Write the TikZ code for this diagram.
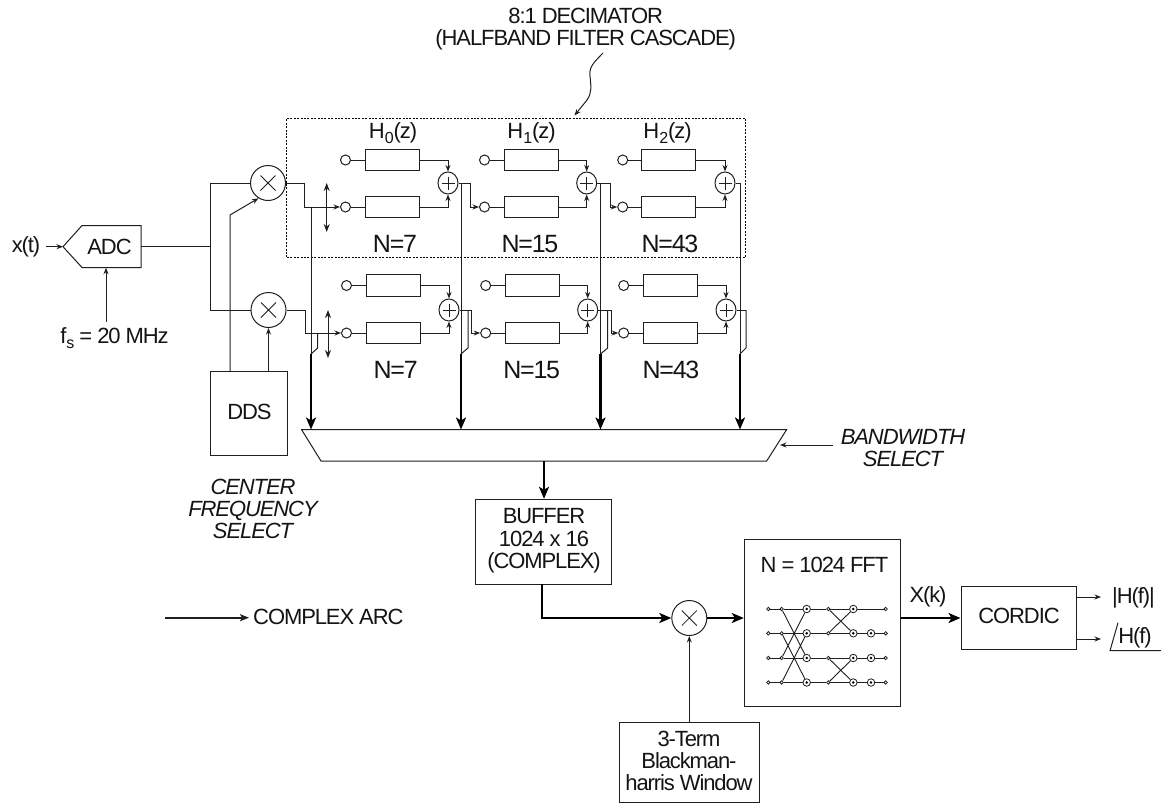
\documentclass[tikz,border=0pt]{standalone}
\usepackage{fontspec}
\setmainfont[LetterSpace=-5]{Liberation Sans}
\usetikzlibrary{arrows.meta,shapes.geometric,calc}
\newcommand{\subtxt}[1]{\raisebox{-5pt}{\fontsize{16}{16}\selectfont #1}}
\tikzset{
  base/.style={line width=1pt,draw=black!88},
  lbl/.style={inner sep=0pt,font=\fontsize{22}{22.4}\selectfont,align=center,text=black!92},
  nlbl/.style={lbl,font=\fontsize{25}{26}\selectfont},
  ilbl/.style={lbl,font=\fontsize{22}{22.4}\selectfont\itshape},
  boxn/.style={base,rectangle,inner sep=0pt},
  tapn/.style={base,circle,inner sep=0pt,minimum size=10pt},
  filt/.style={boxn,minimum width=54pt,minimum height=21.5pt},
  sumn/.style={base,ellipse,inner sep=0pt,minimum width=20pt,minimum height=22pt,
    path picture={\draw[line width=.9pt] ($(path picture bounding box.center)+(-6.5,0)$) -- +(13,0)
      ($(path picture bounding box.center)+(0,-6.5)$) -- +(0,13);}},
  mixn/.style={base,circle,inner sep=0pt,minimum size=35pt,
    path picture={\draw[line width=.8pt] ($(path picture bounding box.center)+(-7.5,-7.5)$) -- +(15,15)
      ($(path picture bounding box.center)+(-7.5,7.5)$) -- +(15,-15);}},
  thin/.style={base,-{Stealth[length=6.5pt,width=5pt]}},
  plain/.style={base},
  fat/.style={line width=2.3pt,draw=black,-{Stealth[length=12pt,width=10pt,inset=3pt]}},
  both/.style={base,{Stealth[length=8pt,width=6pt]}-{Stealth[length=8pt,width=6pt]}},
  dotn/.style={line width=.8pt,draw=black!88,circle,inner sep=0pt,minimum size=3.4pt},
  bsum/.style={line width=.8pt,draw=black!88,circle,inner sep=0pt,minimum size=7.5pt,
    path picture={\fill ($(path picture bounding box.center)$) circle (1.4pt);}},
  bw/.style={line width=.9pt,draw=black!88}
}
\begin{document}
\begin{tikzpicture}[x=1pt,y=-1pt]
\useasboundingbox (0,0) rectangle (1161,807);
\fill[white] (0,0) rectangle (1161,807);

% decimator group
\node[draw=black,line width=1pt,dash pattern=on 2pt off 1.4pt,rectangle,inner sep=0pt,
  minimum width=458.5pt,minimum height=139pt] (dec) at (516.2,187.5) {};
\node[lbl] (dectxt) at (585.7,29) {8:1 DECIMATOR\\(HALFBAND FILTER CASCADE)};
\coordinate (sq) at (603,53);
\coordinate (sqe) at (574.5,115.5);
\draw[thin] (sq) .. controls (592,64) and (589,68) .. (590,76) .. controls (591,86) and (592,93) .. (587,100) -- (sqe);

% ADC
\node[lbl] (xt) at (26,246.5) {x(t)};
\coordinate (adctip) at (63,246.7);
\draw[base] (adctip) -- (82,225.5) -- (141,225.5) -- (141,267.5) -- (82,267.5) -- cycle;
\node[lbl] (adc) at (109.5,246.5) {ADC};
\coordinate (adcout) at (141,246.7);
\coordinate (adcbot) at (106,267.7);
\draw[thin] (46,246.7) -- (adctip);
\node[lbl] (fs) at (114.5,338) {f\subtxt{s} = 20 MHz};
\draw[thin] (106,322) -- (adcbot);

% mixers, DDS
\node[mixn] (m1) at (268,183) {};
\node[mixn] (m2) at (268.5,310) {};
\node[boxn,minimum width=77.7pt,minimum height=84pt] (dds) at (248.9,413.7) {};
\node[lbl] (ddst) at (249.5,412) {DDS};
\node[ilbl] (cfs) at (253,509) {CENTER\\FREQUENCY\\SELECT};
\coordinate (bus) at (210,246.7);
\draw[plain] (adcout) -- (bus);
\draw[plain] (m1.west) -- (210,183) -- (210,310) -- (m2.west);
\draw[thin] (230,371.7) -- (230,215) -- (m1.238);
\draw[thin] (m2.south |- dds.north) -- (m2.south);

% filter stages
\foreach \r/\ya/\yb/\ys/\ca/\ba/\sa/\cb/\bb/\sb/\cc/\bc/\sc in {
  t/160/207/183/345.5/392/448/484.5/531/586.7/622.7/668.8/675,
  l/285.5/333/310/346.5/393.2/449/485.7/532.3/587.7/623.7/670.3/726}{
  \foreach \i/\cx/\bx/\sx in {1/\ca/\ba/\sa,2/\cb/\bb/\sb,3/\cc/\bc/\sc}{
    \node[tapn] (\r u\i) at (\cx,\ya) {};
    \node[tapn] (\r d\i) at (\cx,\yb) {};
    \node[filt] (\r fu\i) at (\bx,\ya) {};
    \node[filt] (\r fd\i) at (\bx,\yb) {};
  }
}
\node[sumn] (ts1) at (448,183) {};
\node[sumn] (ts2) at (586.7,183) {};
\node[sumn] (ts3) at (725,183) {};
\node[sumn] (ls1) at (449,310) {};
\node[sumn] (ls2) at (587.7,310) {};
\node[sumn] (ls3) at (726,310) {};
\foreach \r in {t,l}{
  \foreach \i in {1,2,3}{
    \draw[plain] (\r u\i) -- (\r fu\i);
    \draw[plain] (\r d\i) -- (\r fd\i);
    \draw[thin] (\r fu\i.east) -| (\r s\i.north);
    \draw[thin] (\r fd\i.east) -| (\r s\i.south);
  }
}
% stage links
\draw[thin] (m1.east) -- (304,183) |- (td1.west);
\draw[thin] (m2.east) -- (305.5,310) |- (ld1.west);
\draw[thin] (ts1.east) -- (470,183) |- (td2.west);
\draw[thin] (ts2.east) -- (610,183) |- (td3.west);
\draw[thin] (ls1.east) -- (471.6,310) |- (ld2.west);
\draw[thin] (ls2.east) -- (611,310) |- (ld3.west);

% sweep arrows
\coordinate (sw1a) at (326.7,183);
\coordinate (sw1b) at (326.7,232);
\coordinate (sw2a) at (328,310);
\coordinate (sw2b) at (328,358);
\draw[both] (sw1a) -- (sw1b);
\draw[both] (sw2a) -- (sw2b);

% labels
\node[lbl] (h0) at (393,133) {H\subtxt{0}(z)};
\node[lbl] (h1) at (531.5,133) {H\subtxt{1}(z)};
\node[lbl] (h2) at (667.5,133) {H\subtxt{2}(z)};
\node[nlbl] (n1) at (395,244) {N=7};
\node[nlbl] (n2) at (530,244) {N=15};
\node[nlbl] (n3) at (670,244) {N=43};
\node[nlbl] (n4) at (395.7,370) {N=7};
\node[nlbl] (n5) at (531.7,370) {N=15};
\node[nlbl] (n6) at (671,370) {N=43};

% mux
\coordinate (mtl) at (301.5,429.5);
\coordinate (mbl) at (321,461);
\coordinate (mbr) at (766.7,461);
\coordinate (mtr) at (786.7,429.5);
\draw[base] (mtl) -- (mtr) -- (mbr) -- (mbl) -- cycle;
\coordinate (mout) at (544,461);
\coordinate (mbw) at (780,445);
\draw[thin] (832.7,445) -- (mbw);
\node[ilbl] (bws) at (903,448) {BANDWIDTH\\SELECT};

% taps into mux
\foreach \k/\xa/\xb/\yb/\yt in {1/311/317.7/333.5/208,2/461/468/310/183,3/600.5/607.7/310/183,4/740/746/310/183}{
  \coordinate (up\k) at (\xa,\yt);
  \coordinate (jn\k) at (\xa,354);
  \coordinate (lo\k) at (\xb,\yb);
  \coordinate (in\k) at (\xa,429.5);
  \draw[plain] (up\k) -- (jn\k);
  \draw[plain] (lo\k) -- (\xb,348) -- (jn\k);
  \draw[fat] (jn\k) -- (in\k);
}
\draw[plain] (ts3.east) -- (up4);
\draw[plain] (ls3.east) -- (lo4);

% buffer
\node[boxn,minimum width=136.4pt,minimum height=85pt] (buf) at (543.5,541.8) {};
\node[lbl] (buft) at (544,541) {BUFFER\\1024 x 16\\(COMPLEX)};
\draw[fat] (mout) -- (mout |- buf.north);
\node[mixn] (m3) at (689.3,618) {};
\coordinate (bufo) at (541.7,584.3);
\draw[fat] (bufo) |- (m3.west);

% window
\node[boxn,minimum width=140pt,minimum height=80pt] (win) at (689,762) {};
\node[lbl] (wint) at (689,761) {3-Term\\Blackman-\\harris Window};
\draw[thin] (win.north -| m3) -- (m3.south);

% FFT
\node[boxn,minimum width=155.7pt,minimum height=166.7pt] (fft) at (822.15,622.65) {};
\node[lbl] (fftt) at (824.5,565) {N = 1024 FFT};
\draw[fat] (m3.east) -- (m3 -| fft.west);
\foreach \k/\y in {1/609,2/633.3,3/658,4/682.5}{
  \node[dotn] (a\k) at (768.3,\y) {};
  \node[dotn] (b\k) at (781.7,\y) {};
  \node[bsum] (c\k) at (806.7,\y) {};
  \node[dotn] (d\k) at (828.3,\y) {};
  \node[bsum] (e\k) at (853.3,\y) {};
  \node[dotn] (g\k) at (885.7,\y) {};
  \draw[bw] (a\k) -- (b\k) -- (c\k) -- (d\k) -- (e\k);
}
\foreach \k/\y in {2/633.3,3/658,4/682.5}{
  \node[bsum] (f\k) at (871,\y) {};
  \draw[bw] (e\k) -- (f\k) -- (g\k);
}
\draw[bw] (e1) -- (g1);
\draw[bw] (b1) -- (c3) (b2) -- (c4) (b3) -- (c1) (b4) -- (c2);
\draw[bw] (d1) -- (e2) (d2) -- (e1) (d3) -- (e4) (d4) -- (e3);

% CORDIC
\node[boxn,minimum width=115.7pt,minimum height=62.6pt] (cor) at (1018.85,618) {};
\node[lbl] (cort) at (1019,616) {CORDIC};
\node[lbl] (xk) at (928,596.7) {X(k)};
\draw[fat] (fft.east |- cor.west) -- (cor.west);
\coordinate (cu) at (1076.7,597);
\coordinate (cd) at (1076.7,639);
\draw[thin] (cu) -- (1101,597);
\draw[thin] (cd) -- (1101,639);
\node[lbl] (hm) at (1133.5,598) {|H(f)|};
\node[lbl] (hp) at (1135,638) {H(f)};
\coordinate (ang) at (1118,622.7);
\draw[base] (ang) -- (1110,650.7) -- (1161,650.7);

% legend
\coordinate (lega) at (165,617.7);
\node[lbl,anchor=west] (legt) at (253,617) {COMPLEX ARC};
\draw[base,line width=1.6pt,-{Stealth[length=9pt,width=7pt,inset=2pt]}] (lega) -- (249,617.7);
\end{tikzpicture}
\end{document}
